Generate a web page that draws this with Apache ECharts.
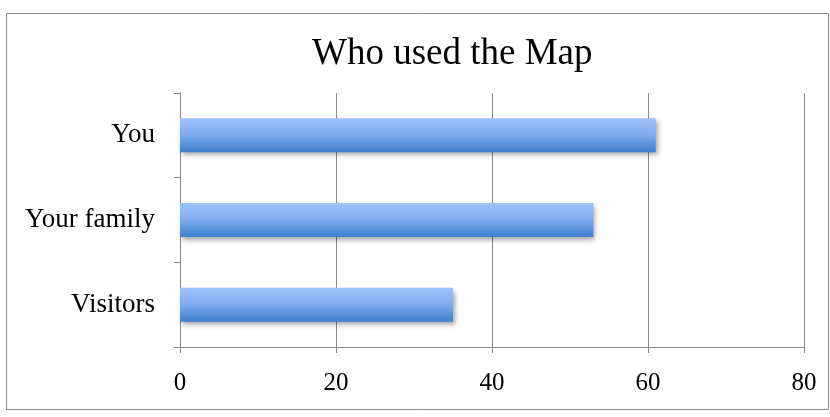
<!DOCTYPE html>
<html><head><meta charset="utf-8">
<script src="https://cdn.jsdelivr.net/npm/echarts@6/dist/echarts.min.js"></script>
<style>html,body{margin:0;padding:0;background:#fff}#c{width:830px;height:417px}</style>
</head><body><div id="c"></div>
<script>
const categories = ['Visitors', 'Your family', 'You'];
const values = [35, 53, 61];
const xTicks = [0, 20, 40, 60, 80];

const chart = echarts.init(document.getElementById('c'), null, {renderer: 'canvas'});
const font = 'Liberation Serif';
chart.setOption({
  animation: false,
  graphic: [{type: 'rect', shape: {x: 6.5, y: 13.5, width: 822, height: 396}, style: {fill: 'none', stroke: '#888', lineWidth: 1}}],
  title: {text: 'Who used the Map', left: 307, top: 31,
    textStyle: {fontFamily: font, fontSize: 37, fontWeight: 'normal', color: '#000'}},
  grid: {left: 180, right: 26, top: 93, bottom: 70},
  xAxis: {type: 'value', min: 0, max: 80, interval: 20,
    axisLine: {show: true, lineStyle: {color: '#888'}},
    axisTick: {show: true, length: 6, lineStyle: {color: '#888'}},
    splitLine: {show: true, lineStyle: {color: '#888'}},
    axisLabel: {fontFamily: font, fontSize: 25, color: '#000', margin: 24,
      formatter: v => xTicks.includes(v) ? String(v) : ''}},
  yAxis: {type: 'category', data: categories,
    axisLine: {show: true, lineStyle: {color: '#888'}},
    axisTick: {show: true, length: 6, lineStyle: {color: '#888'}},
    axisLabel: {fontFamily: font, fontSize: 27, color: '#000', margin: 25}},
  series: [{type: 'bar', data: values, barWidth: 34,
    itemStyle: {
      color: new echarts.graphic.LinearGradient(0, 0, 0, 1, [
        {offset: 0, color: '#9dc3fd'}, {offset: 0.45, color: '#82aef0'}, {offset: 1, color: '#3f7fd0'}]),
      shadowColor: 'rgba(0,0,0,0.35)', shadowBlur: 5, shadowOffsetX: 2, shadowOffsetY: 3
    }}]
});
</script></body></html>
